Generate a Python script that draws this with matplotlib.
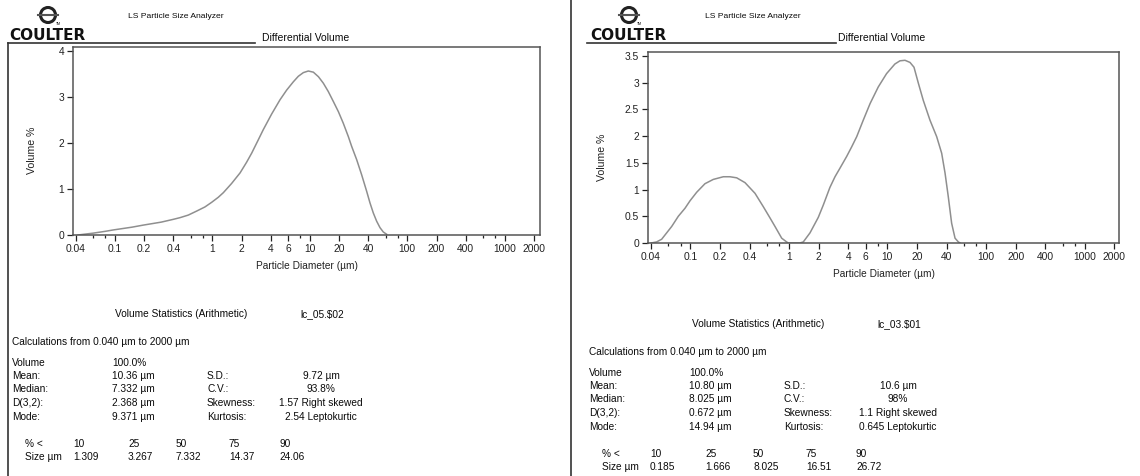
import matplotlib
matplotlib.use('Agg')
import matplotlib.pyplot as plt
from matplotlib.lines import Line2D
from matplotlib.patches import Ellipse
from matplotlib.ticker import NullFormatter

W, H = 1140, 476
plt.rcParams['font.family'] = ['Liberation Sans', 'DejaVu Sans']

# x axis ticks (particle diameter, um)
tick_major = [0.04, 0.1, 0.2, 0.4, 1, 2, 4, 6, 10, 20, 40, 100, 200, 400, 1000, 2000]
tick_labels = ['0.04', '0.1', '0.2', '0.4', '1', '2', '4', '6', '10', '20', '40',
               '100', '200', '400', '1000', '2000']
tick_minor = [0.06, 0.08, 0.6, 0.8, 8, 60, 80, 600, 800]

# sample lc_05.$02 (left)
size_05 = [0.042, 0.05, 0.06, 0.08, 0.0966, 0.15, 0.196, 0.3, 0.398, 0.467, 0.568,
           0.692, 0.842, 0.986, 1.154, 1.30, 1.58, 1.93, 2.25, 2.54, 2.97, 3.34, 4.07,
           4.96, 5.80, 6.79, 7.64, 8.60, 9.67, 10.9, 12.3, 13.8, 15.5, 17.5, 19.7,
           22.1, 24.9, 26.9, 30.3, 34.1, 38.4, 41.5, 44.9, 48.6, 52.6, 56.9, 61.6]
vol_05 = [0.0, 0.02, 0.04, 0.08, 0.11, 0.17, 0.215, 0.28, 0.34, 0.377, 0.433,
          0.52, 0.61, 0.71, 0.82, 0.92, 1.12, 1.35, 1.58, 1.78, 2.07, 2.29, 2.63,
          2.94, 3.15, 3.33, 3.45, 3.53, 3.565, 3.54, 3.44, 3.30, 3.12, 2.90, 2.68,
          2.43, 2.14, 1.93, 1.64, 1.31, 0.95, 0.70, 0.48, 0.30, 0.16, 0.065, 0.015]
yticks_05 = [0, 1, 2, 3, 4]
ytick_labels_05 = ['0', '1', '2', '3', '4']

# sample lc_03.$01 (right)
size_03 = [0.04, 0.0456, 0.0513, 0.0577, 0.0649, 0.0757, 0.0885, 0.0995, 0.1163,
           0.1411, 0.1713, 0.2165, 0.253, 0.2959, 0.3593, 0.4539, 0.5508, 0.644,
           0.7237, 0.8465, 0.95, 0.988, 1.297, 1.402, 1.64, 1.99, 2.236, 2.61, 2.939,
           3.30, 3.86, 4.34, 4.88, 5.69, 6.67, 8.07, 9.8, 11.9, 13.4, 15.07, 16.94,
           18.6, 20.6, 23.1, 27.0, 31.6, 35.5, 38.4, 41.4, 44.8, 48.5, 52.4, 54.5]
vol_03 = [0.0, 0.02, 0.07, 0.19, 0.31, 0.50, 0.65, 0.79, 0.95,
          1.11, 1.19, 1.24, 1.24, 1.22, 1.13, 0.93, 0.68, 0.47,
          0.31, 0.09, 0.02, 0.0, 0.0, 0.02, 0.19, 0.48, 0.71, 1.04, 1.24,
          1.40, 1.62, 1.80, 1.99, 2.30, 2.61, 2.92, 3.17, 3.35, 3.41, 3.42, 3.38,
          3.29, 2.99, 2.67, 2.30, 1.99, 1.68, 1.31, 0.87, 0.37, 0.09, 0.02, 0.0]
yticks_03 = [0, 0.5, 1, 1.5, 2, 2.5, 3, 3.5]
ytick_labels_03 = ['0', '0.5', '1', '1.5', '2', '2.5', '3', '3.5']

# statistics tables
stat_labels = ['Volume', 'Mean:', 'Median:', 'D(3,2):', 'Mode:']
stat_labels2 = ['', 'S.D.:', 'C.V.:', 'Skewness:', 'Kurtosis:']
pct_levels = ['10', '25', '50', '75', '90']

stats_05 = ['100.0%', '10.36 µm', '7.332 µm', '2.368 µm', '9.371 µm']
stats2_05 = ['', '9.72 µm', '93.8%', '1.57 Right skewed', '2.54 Leptokurtic']
pct_05 = ['1.309', '3.267', '7.332', '14.37', '24.06']

stats_03 = ['100.0%', '10.80 µm', '8.025 µm', '0.672 µm', '14.94 µm']
stats2_03 = ['', '10.6 µm', '98%', '1.1 Right skewed', '0.645 Leptokurtic']
pct_03 = ['0.185', '1.666', '8.025', '16.51', '26.72']

fig = plt.figure(figsize=(W / 100, H / 100), dpi=100)


def fx(x):
    return x / W


def fy(y):
    return 1 - y / H


def line(x0, y0, x1, y1, color='#333333', lw=1.2):
    fig.add_artist(Line2D([fx(x0), fx(x1)], [fy(y0), fy(y1)],
                          transform=fig.transFigure, color=color, lw=lw))


def text(x, y, s, size=7.3, ha='left', **kw):
    fig.text(fx(x), fy(y), s, fontsize=size, ha=ha, va='center', color='#0a0a0a', **kw)


def header(logo_x, ls_x, coulter_x, line_x0, line_x1, dv_x):
    # small round logo above the brand name
    fig.add_artist(Ellipse((fx(logo_x), fy(15)), 15 / W, 15 / H, transform=fig.transFigure,
                           fill=False, lw=2.2, ec='#222222'))
    line(logo_x - 10, 15, logo_x + 10, 15, color='#555555', lw=1.5)
    text(logo_x + 8, 24, 'TM', size=2.5)
    text(ls_x, 17, 'LS Particle Size Analyzer', size=6.1)
    fig.text(fx(coulter_x), fy(36), 'COULTER', fontsize=11, fontweight='bold', ha='center',
             va='center', family='DejaVu Sans', color='#111111')
    line(line_x0, 43, line_x1, 43)
    text(dv_x, 38, 'Differential Volume', size=7.5)


def panel(box, xlim, ylim, sizes, vols, yticks, ylabels, ylab_x):
    ax = fig.add_axes(box)
    ax.plot(sizes, vols, color='#8f8f8f', lw=1.1, solid_joinstyle='round')
    ax.set_xscale('log')
    ax.set_xlim(*xlim)
    ax.set_ylim(*ylim)
    ax.set_xticks(tick_major, tick_labels)
    ax.set_xticks(tick_minor, minor=True)
    ax.xaxis.set_minor_formatter(NullFormatter())
    ax.set_yticks(yticks, ylabels)
    ax.tick_params(which='major', length=4.5, width=0.9, direction='out', labelsize=7.4,
                   pad=2, colors='#222222')
    ax.tick_params(which='minor', length=2.5, width=0.9, colors='#222222')
    for sp in ax.spines.values():
        sp.set_color('#555555')
        sp.set_linewidth(1.1)
    ax.set_ylabel('Volume %', fontsize=7.6, color='#222222')
    ax.yaxis.set_label_coords(ylab_x, 0.45)
    ax.set_xlabel('Particle Diameter (µm)', fontsize=7.3, color='#222222', labelpad=5)
    return ax


def stats_block(dx, y0, sample, stats, stats2, pct):
    text(115 + dx, y0, 'Volume Statistics (Arithmetic)')
    text(300 + dx, y0, sample)
    text(12 + dx, y0 + 27.7, 'Calculations from 0.040 µm to 2000 µm')
    for i in range(len(stat_labels)):
        yy = y0 + 48.5 + i * 13.5
        text(12 + dx, yy, stat_labels[i])
        text(112 + dx, yy, stats[i])
        text(207 + dx, yy, stat_labels2[i])
        text(321 + dx, yy, stats2[i], ha='center')
    cols = [73, 128, 176, 229, 279]
    text(25 + dx, y0 + 130, '% <')
    text(25 + dx, y0 + 143.5, 'Size µm')
    for c, lev, val in zip(cols, pct_levels, pct):
        text(c + dx, y0 + 130, lev)
        text(c + dx, y0 + 143.5, val)


# frames
line(8, 43, 8, H)
line(571.5, 0, 571.5, H)

# left panel
header(48, 128, 47, 8, 255, 262)
panel([fx(73), fy(235), (540 - 73) / W, (235 - 47) / H], (0.0373, 2304), (0, 4.087),
      size_05, vol_05, yticks_05, ytick_labels_05, -0.077)
stats_block(0, 314, 'lc_05.$02', stats_05, stats2_05, pct_05)

# right panel
header(629, 705, 628, 587, 836, 838)
panel([fx(648), fy(243), (1119 - 648) / W, (243 - 52) / H], (0.0373, 2232), (0, 3.575),
      size_03, vol_03, yticks_03, ytick_labels_03, -0.087)
stats_block(577, 324, 'lc_03.$01', stats_03, stats2_03, pct_03)

fig.savefig('out.png', dpi=100)
